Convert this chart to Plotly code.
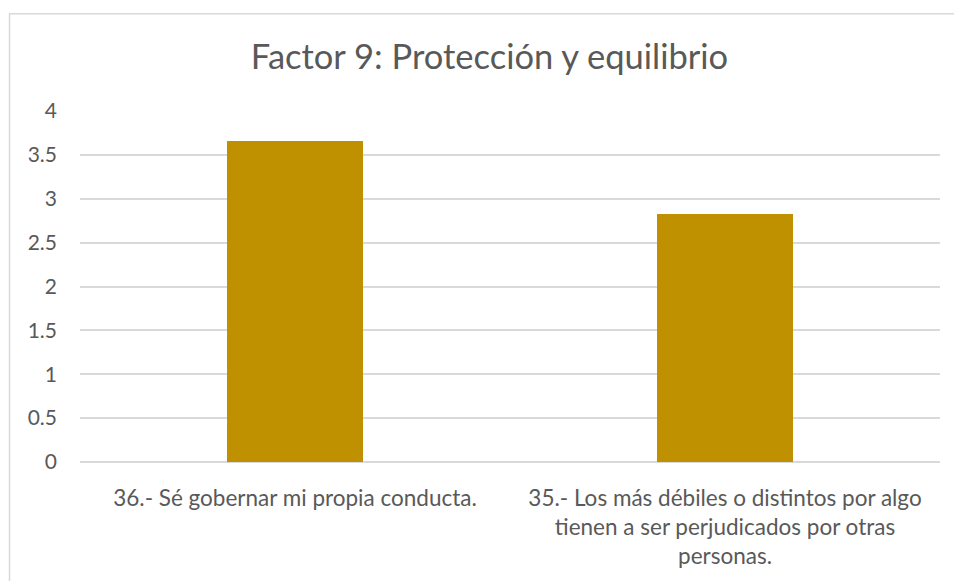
import plotly.graph_objects as go

categories = [
    "36.- Sé gobernar mi propia conducta.",
    "35.- Los más débiles o distintos por algo<br>tienen a ser perjudicados por otras<br>personas.",
]
values = [3.66, 2.83]
y_ticks = [0, 0.5, 1, 1.5, 2, 2.5, 3, 3.5, 4]
y_tick_labels = ["0", "0.5", "1", "1.5", "2", "2.5", "3", "3.5", "4"]
title_text = "Factor 9: Protección y equilibrio"

FONT = "Lato, sans-serif"
TXT = "#595959"
GRID = "#D9D9D9"

W, H = 954, 581
ml, mr, mt, mb = 80, 14, 111, 113
pw = W - ml - mr
ph = H - mt - mb

fig = go.Figure(
    go.Bar(
        x=categories,
        y=values,
        marker=dict(color="#BF9000", line=dict(width=0)),
        width=0.314,
    )
)

fig.update_layout(
    width=W,
    height=H,
    margin=dict(l=ml, r=mr, t=mt, b=mb),
    paper_bgcolor="white",
    plot_bgcolor="white",
    showlegend=False,
    bargap=0,
    font=dict(family=FONT, color=TXT, size=21),
    title=dict(
        text=title_text,
        x=489.5 / W,
        xanchor="center",
        y=1 - 57 / H,
        yanchor="middle",
        font=dict(family=FONT, size=34.5, color=TXT),
    ),
)

fig.update_xaxes(
    showgrid=False,
    showline=False,
    ticks="",
    tickfont=dict(family=FONT, size=22.5, color=TXT),
    ticklabelstandoff=20,
)
fig.update_yaxes(
    range=[0, 4],
    tickmode="array",
    tickvals=y_ticks,
    ticktext=y_tick_labels,
    showgrid=True,
    gridcolor=GRID,
    gridwidth=1.5,
    zeroline=True,
    zerolinecolor=GRID,
    zerolinewidth=1.5,
    showline=False,
    ticks="",
    tickfont=dict(family=FONT, size=21, color=TXT),
    ticklabelstandoff=22,
)

# chart border (light gray), top and left edges visible
fig.add_shape(
    type="rect",
    xref="paper",
    yref="paper",
    x0=(9.5 - ml) / pw,
    x1=(W + 20 - ml) / pw,
    y0=-(H + 20 - (mt + ph)) / ph,
    y1=(mt + ph - 12) / ph,
    line=dict(color="#D9D9D9", width=1.5),
    fillcolor="rgba(0,0,0,0)",
    layer="below",
)

fig.write_html(
    "out.html",
    config={"displayModeBar": False},
    post_script="document.body.style.margin='0';document.body.style.padding='0';",
)
